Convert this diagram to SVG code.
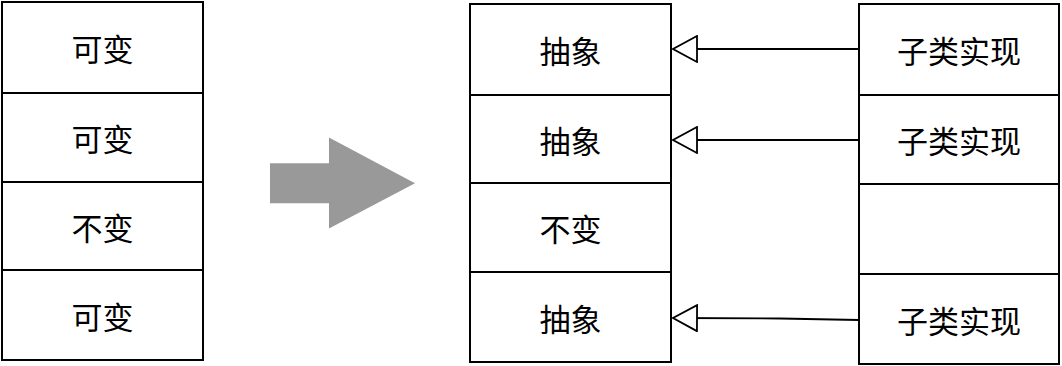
<svg xmlns="http://www.w3.org/2000/svg" width="1062" height="366" viewBox="0 0 1062 366">
<style>
.box{fill:#fff;stroke:#000;stroke-width:2}
.t{font-family:"Noto Sans CJK SC","Liberation Sans",sans-serif;font-size:31px;fill:#000;text-anchor:middle;dominant-baseline:central}
.conn{fill:none;stroke:#000;stroke-width:1.8}
</style>
<defs>
<marker id="tri" viewBox="0 0 26 28" refX="25" refY="14" markerWidth="26" markerHeight="28" markerUnits="userSpaceOnUse" orient="auto">
<path d="M1,1 L25,14 L1,27 Z" fill="#fff" stroke="#000" stroke-width="1.8"/>
</marker>
</defs>
<g id="left-1"><rect class="box" x="2" y="2" width="201" height="91"/><text class="t" x="102.5" y="47.5">可变</text></g>
<g id="left-2"><rect class="box" x="2" y="93" width="201" height="89"/><text class="t" x="102.5" y="137.5">可变</text></g>
<g id="left-3"><rect class="box" x="2" y="182" width="201" height="88"/><text class="t" x="102.5" y="226">不变</text></g>
<g id="left-4"><rect class="box" x="2" y="270" width="201" height="90"/><text class="t" x="102.5" y="315">可变</text></g>
<g id="big-arrow"><polygon points="270,163.3 329,163.3 329,137.5 415,183.3 329,228.5 329,203.3 270,203.3" fill="#999999"/></g>
<g id="mid-1"><rect class="box" x="470" y="4" width="201" height="91"/><text class="t" x="570.5" y="49.5">抽象</text></g>
<g id="mid-2"><rect class="box" x="470" y="95" width="201" height="88"/><text class="t" x="570.5" y="139">抽象</text></g>
<g id="mid-3"><rect class="box" x="470" y="183" width="201" height="89"/><text class="t" x="570.5" y="227.5">不变</text></g>
<g id="mid-4"><rect class="box" x="470" y="272" width="201" height="90"/><text class="t" x="570.5" y="317">抽象</text></g>
<g id="right-1"><rect class="box" x="859" y="4" width="200" height="91"/><text class="t" x="959" y="49.5">子类实现</text></g>
<g id="right-2"><rect class="box" x="859" y="95" width="200" height="89"/><text class="t" x="959" y="139.5">子类实现</text></g>
<g id="right-3"><rect class="box" x="859" y="184" width="200" height="90"/></g>
<g id="right-4"><rect class="box" x="859" y="274" width="200" height="90"/><text class="t" x="959" y="319">子类实现</text></g>
<g id="connectors">
<path class="conn" d="M859,320 L780,318.5 L673,318" marker-end="url(#tri)"/>
<path class="conn" d="M859,49 L673,49" marker-end="url(#tri)"/>
<path class="conn" d="M859,140 L673,140" marker-end="url(#tri)"/>
</g>
</svg>
